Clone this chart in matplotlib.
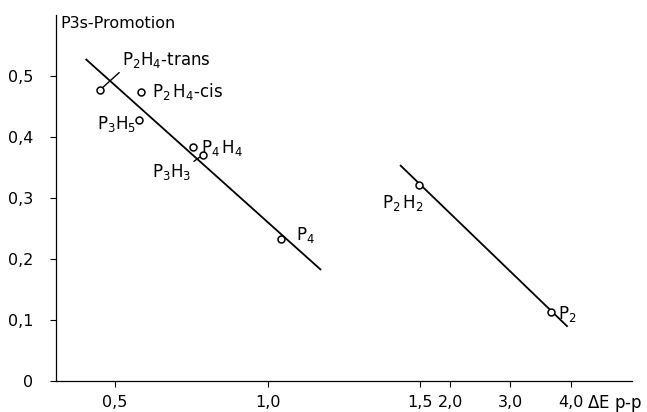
import numpy as np
import matplotlib
matplotlib.use('Agg')
import matplotlib.pyplot as plt

plt.rcParams['font.family'] = ['DejaVu Sans']
plt.rcParams['mathtext.fontset'] = 'custom'
plt.rcParams['mathtext.rm'] = 'DejaVu Sans'
plt.rcParams['mathtext.it'] = 'DejaVu Sans'

# points
names = ['$\\mathrm{P_2H_4}$-trans', '$\\mathrm{P_2\\,H_4}$-cis', '$\\mathrm{P_3H_5}$',
         '$\\mathrm{P_4\\,H_4}$', '$\\mathrm{P_3H_3}$', '$\\mathrm{P_4}$',
         '$\\mathrm{P_2\\,H_2}$', '$\\mathrm{P_2}$']
dE = [0.451, 0.585, 0.579, 0.756, 0.789, 1.045, 1.497, 3.67]
promo = [0.477, 0.474, 0.428, 0.384, 0.371, 0.232, 0.322, 0.113]

# fitted lines (end points)
fit1_x = [0.406, 1.173]
fit1_y = [0.527, 0.183]
fit2_x = [1.436, 3.94]
fit2_y = [0.353, 0.090]

xticks = [0.5, 1.0, 1.5, 2.0, 3.0, 4.0]
xticklabels = ['0,5', '1,0', '1,5', '2,0', '3,0', '4,0']
yticks = [0, 0.1, 0.2, 0.3, 0.4, 0.5]
yticklabels = ['0', '0,1', '0,2', '0,3', '0,4', '0,5']

# label offsets in pixels, alignment, leader line
lab_off = [(22, 30, 'left', True), (11, 0, 'left', False), (-3, -4, 'right', False),
           (8, -1, 'left', False), (-12, -17, 'right', True), (15, 4, 'left', False),
           (4, -18, 'right', False), (7, -2, 'left', False)]

# x axis is squeezed above 1,5
k = 0.197
def fwd(x):
    x = np.asarray(x, dtype=float)
    return np.where(x <= 1.5, x, 1.5 + (x - 1.5) * k)
def inv(u):
    u = np.asarray(u, dtype=float)
    return np.where(u <= 1.5, u, 1.5 + (u - 1.5) / k)

fig = plt.figure(figsize=(6.47, 4.12), dpi=100)
ax = fig.add_axes([56/647, 1-381/412, 576/647, 366/412])
ax.set_xscale('function', functions=(fwd, inv))
ax.set_xlim(0.307, 1.5 + (0.307 + 576/305.3 - 1.5) / k)
ax.set_ylim(0, 0.6)

ax.plot(fit1_x, fit1_y, color='black', lw=1.3)
ax.plot(fit2_x, fit2_y, color='black', lw=1.3)
ax.plot(dE, promo, 'o', ms=5, mfc='white', mec='black', mew=1.1, zorder=3)

for name, x, y, (dx, dy, ha, lead) in zip(names, dE, promo, lab_off):
    if lead:
        rel = (0, 0) if ha == 'left' else (0.95, 0.85)
        ax.annotate(name, (x, y), xytext=(dx, dy), textcoords='offset pixels',
                    ha=ha, va='center', fontsize=12,
                    arrowprops=dict(arrowstyle='-', lw=1.0, relpos=rel,
                                    shrinkA=0, shrinkB=3))
    else:
        ax.annotate(name, (x, y), xytext=(dx, dy), textcoords='offset pixels',
                    ha=ha, va='center', fontsize=12)

ax.set_xticks(xticks)
ax.set_xticklabels(xticklabels)
ax.set_yticks(yticks)
ax.set_yticklabels(yticklabels)
ax.minorticks_off()
ax.tick_params(labelsize=11.5, length=4, width=0.8)
ax.tick_params(axis='x', pad=6)
ax.tick_params(axis='y', pad=12.5)
ax.spines['top'].set_visible(False)
ax.spines['right'].set_visible(False)
for s in ['left', 'bottom']:
    ax.spines[s].set_linewidth(0.9)

fig.text(60/647, 1-28/412, 'P3s-Promotion', fontsize=11.5, va='baseline')
fig.text(587/647, 1-403/412, '$\\Delta$E p-p', fontsize=12, va='center')

fig.savefig('out.png', dpi=100)
